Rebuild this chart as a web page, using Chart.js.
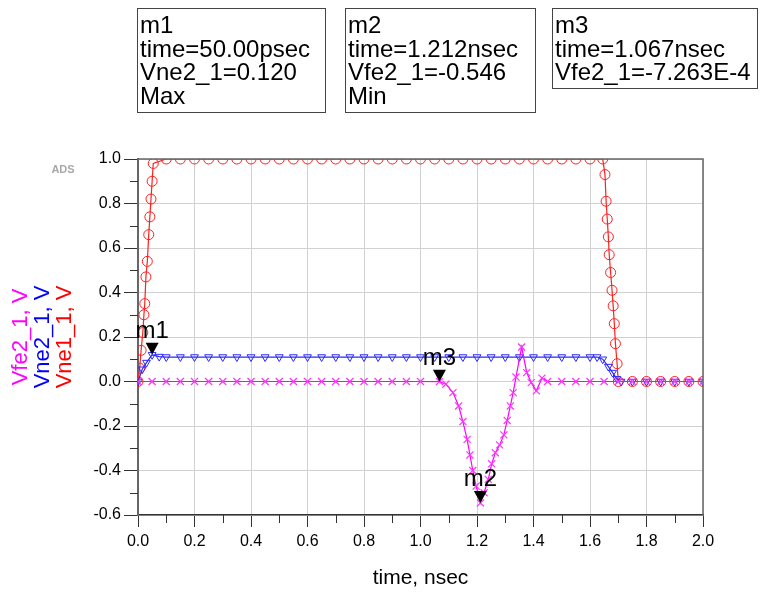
<!DOCTYPE html>
<html>
<head>
<meta charset="utf-8">
<script src="https://cdn.jsdelivr.net/npm/chart.js@4.4.1/dist/chart.umd.min.js"></script>
<style>
  body { margin: 0; background: #fff; }
</style>
</head>
<body>
<canvas id="chart-ads" width="761" height="593"></canvas>
<script>
// transient data (time in nsec, value in V)

var redT = [0, 0.006, 0.011, 0.017, 0.021, 0.024, 0.028, 0.033, 0.038, 0.042, 0.046, 0.050, 0.054,
  0.10, 0.15, 0.20, 0.25, 0.30, 0.35, 0.40, 0.45, 0.50, 0.55, 0.60, 0.65, 0.70, 0.75, 0.80, 0.85,
  0.90, 0.95, 1.00, 1.05, 1.10, 1.15, 1.20, 1.25, 1.30, 1.35, 1.40, 1.45, 1.50, 1.55, 1.60,
  1.645, 1.653, 1.657, 1.661, 1.665, 1.668, 1.673, 1.678, 1.682, 1.686, 1.690, 1.696, 1.700,
  1.75, 1.80, 1.85, 1.90, 1.95, 2.00];
var redV = [0, 0.06, 0.14, 0.22, 0.30, 0.35, 0.47, 0.54, 0.66, 0.74, 0.82, 0.90, 0.98,
  1.0, 1.0, 1.0, 1.0, 1.0, 1.0, 1.0, 1.0, 1.0, 1.0, 1.0, 1.0, 1.0, 1.0, 1.0, 1.0,
  1.0, 1.0, 1.0, 1.0, 1.0, 1.0, 1.0, 1.0, 1.0, 1.0, 1.0, 1.0, 1.0, 1.0, 1.0,
  1.0, 0.93, 0.81, 0.73, 0.65, 0.57, 0.49, 0.41, 0.34, 0.26, 0.17, 0.08, 0.0,
  0, 0, 0, 0, 0, 0];

var blueT = [0, 0.015, 0.030, 0.050, 0.075,
  0.10, 0.15, 0.20, 0.25, 0.30, 0.35, 0.40, 0.45, 0.50, 0.55, 0.60, 0.65, 0.70, 0.75, 0.80, 0.85,
  0.90, 0.95, 1.00, 1.05, 1.10, 1.15, 1.20, 1.25, 1.30, 1.35, 1.40, 1.45, 1.50, 1.55, 1.60,
  1.625, 1.645, 1.665, 1.680, 1.695, 1.710, 1.75, 1.80, 1.85, 1.90, 1.95, 2.00];
var blueV = [0, 0.055, 0.085, 0.120, 0.112,
  0.110, 0.110, 0.110, 0.110, 0.110, 0.110, 0.110, 0.110, 0.110, 0.110, 0.110, 0.110, 0.110, 0.110, 0.110, 0.110,
  0.110, 0.110, 0.110, 0.110, 0.110, 0.110, 0.110, 0.110, 0.110, 0.110, 0.110, 0.110, 0.110, 0.110, 0.110,
  0.110, 0.100, 0.067, 0.040, 0.012, 0.0, 0, 0, 0, 0, 0, 0];

var magT = [0, 0.05, 0.10, 0.15, 0.20, 0.25, 0.30, 0.35, 0.40, 0.45, 0.50, 0.55, 0.60, 0.65, 0.70,
  0.75, 0.80, 0.85, 0.90, 0.95, 1.00, 1.067, 1.09, 1.115, 1.135, 1.150, 1.165, 1.175, 1.185,
  1.197, 1.212, 1.225, 1.240, 1.252, 1.265, 1.280, 1.295, 1.307, 1.318, 1.328, 1.338, 1.358,
  1.376, 1.392, 1.410, 1.430, 1.450, 1.50, 1.55, 1.60, 1.65, 1.70, 1.75, 1.80, 1.85, 1.90, 1.95, 2.00];
var magV = [0, 0, 0, 0, 0, 0, 0, 0, 0, 0, 0, 0, 0, 0, 0,
  0, 0, 0, 0, 0, 0, -0.0007, -0.012, -0.05, -0.11, -0.18, -0.26, -0.33, -0.40,
  -0.47, -0.546, -0.50, -0.44, -0.37, -0.32, -0.285, -0.24, -0.175, -0.11, -0.05, 0.02, 0.155,
  0.04, -0.005, -0.042, 0.015, 0, 0, 0, 0, 0, 0, 0, 0, 0, 0, 0, 0];

// markers: name, time, value
var markNames = ["m1", "m2", "m3"];
var markT = [0.050, 1.212, 1.067];
var markV = [0.120, -0.546, -0.0007];
var markBoxes = [
  ["m1", "time=50.00psec", "Vne2_1=0.120", "Max"],
  ["m2", "time=1.212nsec", "Vfe2_1=-0.546", "Min"],
  ["m3", "time=1.067nsec", "Vfe2_1=-7.263E-4"]
];

var yTitles = ["Vfe2_1, V", "Vne2_1, V", "Vne1_1, V"];
var yTitleColors = ["#ff00ff", "#0000ff", "#ff0000"];

var FONT = "'Liberation Sans', Arial, sans-serif";

function pairs(t, v) {
  var out = [];
  for (var i = 0; i < t.length; i++) out.push({ x: t[i], y: v[i] });
  return out;
}

function fmt(v) {
  if (Math.abs(v) < 1e-9) return "0.0";
  return v.toFixed(1);
}

var adsExtras = {
  id: "adsExtras",
  afterDraw: function (chart) {
    var c = chart.ctx;
    var a = chart.chartArea;
    var xs = chart.scales.x;
    var ys = chart.scales.y;
    c.save();

    // top / right frame
    c.strokeStyle = "#666";
    c.lineWidth = 1.5;
    c.beginPath();
    c.moveTo(a.left, a.top);
    c.lineTo(a.right, a.top);
    c.lineTo(a.right, a.bottom);
    c.stroke();

    // minor ticks
    c.strokeStyle = "#333";
    c.lineWidth = 1;
    c.beginPath();
    for (var i = 0; i < 10; i++) {
      var px = Math.round(xs.getPixelForValue(0.1 + i * 0.2)) + 0.5;
      c.moveTo(px, a.bottom);
      c.lineTo(px, a.bottom + 8);
    }
    for (var j = 0; j < 8; j++) {
      var py = Math.round(ys.getPixelForValue(-0.5 + j * 0.2)) + 0.5;
      c.moveTo(a.left - 8, py);
      c.lineTo(a.left, py);
    }
    c.stroke();

    // marker triangles and names
    c.fillStyle = "#000";
    c.font = "24px " + FONT;
    c.textAlign = "center";
    c.textBaseline = "alphabetic";
    for (var k = 0; k < markNames.length; k++) {
      var mx = xs.getPixelForValue(markT[k]);
      var my = ys.getPixelForValue(markV[k]);
      c.beginPath();
      c.moveTo(mx, my);
      c.lineTo(mx - 6.5, my - 12);
      c.lineTo(mx + 6.5, my - 12);
      c.closePath();
      c.fill();
      c.fillText(markNames[k], mx, my - 17);
    }

    // marker readout boxes
    var boxX = [137, 345, 552];
    var boxW = [188, 190, 205];
    c.textAlign = "left";
    c.font = "24px " + FONT;
    c.strokeStyle = "#444";
    c.lineWidth = 1;
    for (var b = 0; b < markBoxes.length; b++) {
      var lines = markBoxes[b];
      var h = lines.length * 24 + 8;
      c.strokeRect(boxX[b] + 0.5, 8.5, boxW[b], h);
      for (var l = 0; l < lines.length; l++) {
        c.fillText(lines[l], boxX[b] + 3, 33 + l * 23.7);
      }
    }

    // coloured y-axis titles
    var mid = (a.top + a.bottom) / 2;
    c.font = "22px " + FONT;
    c.textAlign = "center";
    var baseX = [27, 49, 71];
    for (var t = 0; t < yTitles.length; t++) {
      c.save();
      c.translate(baseX[t], mid);
      c.rotate(-Math.PI / 2);
      c.fillStyle = yTitleColors[t];
      c.fillText(yTitles[t], 0, 0);
      c.restore();
    }

    // ADS tag
    c.fillStyle = "#a8a8a8";
    c.font = "bold 11px " + FONT;
    c.textAlign = "center";
    c.textBaseline = "middle";
    c.fillText("ADS", 63, 170);

    c.restore();
  }
};

var ctx = document.getElementById("chart-ads").getContext("2d");

new Chart(ctx, {
  type: "line",
  data: {
    datasets: [
      {
        label: "Vfe2_1",
        data: pairs(magT, magV),
        borderColor: "#ff00ff",
        borderWidth: 1.2,
        backgroundColor: "transparent",
        pointStyle: "crossRot",
        pointRadius: 5,
        pointBorderColor: "#ff33ff",
        pointBorderWidth: 1.2,
        tension: 0,
      },
      {
        label: "Vne2_1",
        data: pairs(blueT, blueV),
        borderColor: "#2a2aff",
        borderWidth: 1.2,
        backgroundColor: "transparent",
        pointStyle: "triangle",
        rotation: 180,
        pointRadius: 4.5,
        pointBorderColor: "#2a2aff",
        pointBorderWidth: 1,
        tension: 0,
      },
      {
        label: "Vne1_1",
        data: pairs(redT, redV),
        borderColor: "#ff2020",
        borderWidth: 1.2,
        backgroundColor: "transparent",
        pointStyle: "circle",
        pointRadius: 5,
        pointBorderColor: "#ff2020",
        pointBorderWidth: 1,
        tension: 0,
      },
    ],
  },
  options: {
    responsive: false,
    animation: false,
    devicePixelRatio: 1,
    layout: {
      padding: { left: 88, right: 58, top: 159, bottom: 0 },
    },
    plugins: {
      legend: { display: false },
      tooltip: { enabled: false },
    },
    scales: {
      x: {
        type: "linear",
        min: 0,
        max: 2,
        afterFit: function (s) { s.height = 78; },
        grid: {
          color: "#d2d2d2",
          tickColor: "#333",
          tickLength: 12,
        },
        border: { color: "#333", width: 1.5 },
        ticks: {
          stepSize: 0.2,
          autoSkip: false,
          maxRotation: 0,
          padding: 5,
          color: "#000",
          font: { size: 16, family: FONT },
          callback: fmt,
        },
        title: {
          display: true,
          text: "time, nsec",
          color: "#000",
          font: { size: 21, family: FONT },
          padding: { top: 0, bottom: 2 },
        },
      },
      y: {
        min: -0.6,
        max: 1.0,
        afterFit: function (s) { s.width = 50; },
        grid: {
          color: "#d2d2d2",
          tickColor: "#333",
          tickLength: 14,
        },
        border: { color: "#666", width: 2 },
        ticks: {
          stepSize: 0.2,
          autoSkip: false,
          padding: 3,
          color: "#000",
          font: { size: 16, family: FONT },
          callback: fmt,
        },
      },
    },
  },
  plugins: [adsExtras],
});
</script>
</body>
</html>
